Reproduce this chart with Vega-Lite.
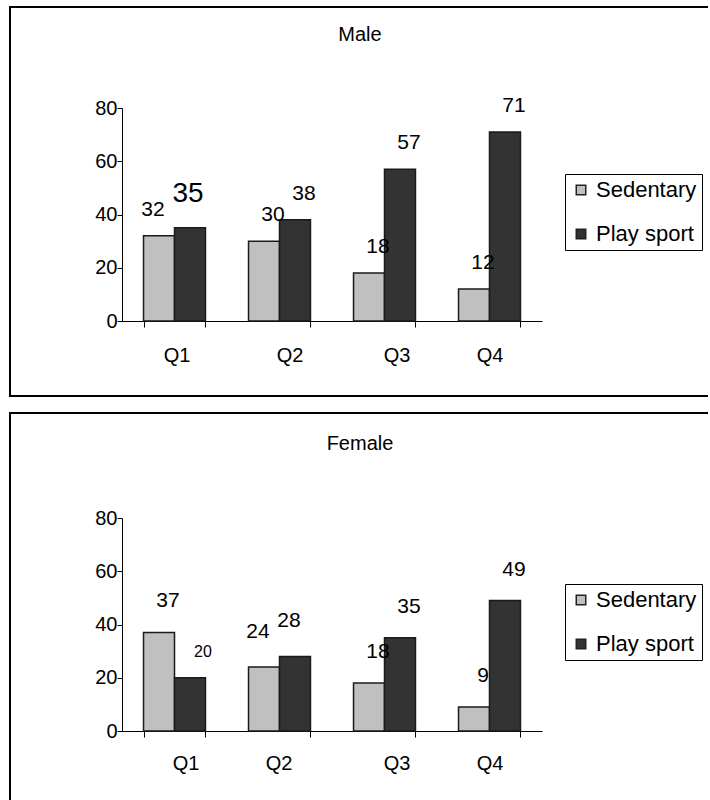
{
  "$schema": "https://vega.github.io/schema/vega-lite/v6.json",
  "padding": {"left": 9, "top": 6, "right": -3, "bottom": -4},
  "spacing": 15,
  "background": "#ffffff",
  "config": {
    "font": "Liberation Sans",
    "view": {"stroke": "#000000", "strokeWidth": 2},
    "axis": {
      "domainColor": "#000000",
      "tickColor": "#000000",
      "labelColor": "#000000",
      "labelFontSize": 20,
      "labelFont": "Liberation Sans",
      "grid": false,
      "title": null
    },
    "legend": {
      "labelFont": "Liberation Sans"
    }
  },
  "data": {
    "values": [
      {"gender": "Male", "quarter": "Q1", "activity": "Sedentary", "value": 32},
      {"gender": "Male", "quarter": "Q1", "activity": "Play sport", "value": 35},
      {"gender": "Male", "quarter": "Q2", "activity": "Sedentary", "value": 30},
      {"gender": "Male", "quarter": "Q2", "activity": "Play sport", "value": 38},
      {"gender": "Male", "quarter": "Q3", "activity": "Sedentary", "value": 18},
      {"gender": "Male", "quarter": "Q3", "activity": "Play sport", "value": 57},
      {"gender": "Male", "quarter": "Q4", "activity": "Sedentary", "value": 12},
      {"gender": "Male", "quarter": "Q4", "activity": "Play sport", "value": 71},
      {"gender": "Female", "quarter": "Q1", "activity": "Sedentary", "value": 37},
      {"gender": "Female", "quarter": "Q1", "activity": "Play sport", "value": 20},
      {"gender": "Female", "quarter": "Q2", "activity": "Sedentary", "value": 24},
      {"gender": "Female", "quarter": "Q2", "activity": "Play sport", "value": 28},
      {"gender": "Female", "quarter": "Q3", "activity": "Sedentary", "value": 18},
      {"gender": "Female", "quarter": "Q3", "activity": "Play sport", "value": 35},
      {"gender": "Female", "quarter": "Q4", "activity": "Sedentary", "value": 9},
      {"gender": "Female", "quarter": "Q4", "activity": "Play sport", "value": 49}
    ]
  },
  "resolve": {
    "scale": {"x": "independent", "y": "independent", "color": "independent", "xOffset": "independent", "size": "independent"},
    "legend": {"color": "independent"},
    "axis": {"x": "independent", "y": "independent"}
  },
  "vconcat": [
    {
      "width": 700,
      "height": 389,
      "title": {"text": "Male", "fontSize": 20, "fontWeight": "normal", "color": "#000000", "offset": -38, "anchor": "middle"},
      "transform": [{"filter": "datum.gender === 'Male'"}],
      "encoding": {
        "x": {
          "field": "quarter", "type": "nominal", "sort": ["Q1", "Q2", "Q3", "Q4"],
          "scale": {"range": [112, 532], "paddingInner": 0.41, "paddingOuter": 0.205},
          "axis": {
            "orient": "bottom", "offset": -75, "tickBand": "extent", "tickSize": 6, "labelPadding": 18, "labelAngle": 0,
            "labelOffset": {"condition": [{"test": "datum.value === 'Q1'", "value": 2}, {"test": "datum.value === 'Q2'", "value": 10}, {"test": "datum.value === 'Q3'", "value": 12}], "value": 0}
          }
        },
        "xOffset": {"field": "activity", "type": "nominal", "sort": ["Sedentary", "Play sport"]},
        "y": {
          "field": "value", "type": "quantitative",
          "scale": {"domain": [0, 80], "range": [314, 101]},
          "axis": {"orient": "left", "offset": -112, "values": [0, 20, 40, 60, 80], "tickSize": 5, "labelPadding": 0}
        }
      },
      "layer": [
        {
          "mark": {"type": "bar", "stroke": "#1a1a1a", "strokeWidth": 1.5},
          "encoding": {
            "color": {
              "field": "activity", "type": "nominal", "sort": ["Sedentary", "Play sport"],
              "scale": {"domain": ["Sedentary", "Play sport"], "range": ["#c0c0c0", "#333333"]},
              "legend": {
                "orient": "none", "legendX": 555, "legendY": 167, "title": null,
                "strokeColor": "#000000", "fillColor": "#ffffff", "padding": 5,
                "symbolType": "square", "symbolSize": 90, "symbolStrokeColor": "#222222", "symbolStrokeWidth": 1.5,
                "labelFontSize": 22, "labelColor": "#000000", "rowPadding": 22, "labelOffset": 4
              }
            }
          }
        },
        {
          "transform": [{"filter": "datum.quarter !== 'Q1'"}],
          "mark": {"type": "text", "dx": 9, "dy": -26, "baseline": "middle", "color": "#000000", "fontSize": 21},
          "encoding": {
            "text": {"field": "value", "type": "quantitative"}
          }
        },
        {
          "transform": [{"filter": "datum.quarter === 'Q1' && datum.activity === 'Sedentary'"}],
          "mark": {"type": "text", "dx": -6, "dy": -26, "baseline": "middle", "color": "#000000", "fontSize": 21},
          "encoding": {
            "text": {"field": "value", "type": "quantitative"}
          }
        },
        {
          "transform": [{"filter": "datum.quarter === 'Q1' && datum.activity === 'Play sport'"}],
          "mark": {"type": "text", "dx": -2, "dy": -34, "baseline": "middle", "color": "#000000", "fontSize": 28},
          "encoding": {
            "text": {"field": "value", "type": "quantitative"}
          }
        }
      ]
    },
    {
      "width": 700,
      "height": 390,
      "title": {"text": "Female", "fontSize": 20, "fontWeight": "normal", "color": "#000000", "offset": -41, "anchor": "middle"},
      "transform": [{"filter": "datum.gender === 'Female'"}],
      "encoding": {
        "x": {
          "field": "quarter", "type": "nominal", "sort": ["Q1", "Q2", "Q3", "Q4"],
          "scale": {"range": [112, 532], "paddingInner": 0.41, "paddingOuter": 0.205},
          "axis": {
            "orient": "bottom", "offset": -72, "tickBand": "extent", "tickSize": 6, "labelPadding": 16, "labelAngle": 0,
            "labelOffset": {"condition": [{"test": "datum.value === 'Q1'", "value": 11}, {"test": "datum.value === 'Q2'", "value": -1}, {"test": "datum.value === 'Q3'", "value": 12}], "value": 0}
          }
        },
        "xOffset": {"field": "activity", "type": "nominal", "sort": ["Sedentary", "Play sport"]},
        "y": {
          "field": "value", "type": "quantitative",
          "scale": {"domain": [0, 80], "range": [318, 105]},
          "axis": {"orient": "left", "offset": -112, "values": [0, 20, 40, 60, 80], "tickSize": 5, "labelPadding": 0}
        }
      },
      "layer": [
        {
          "mark": {"type": "bar", "stroke": "#1a1a1a", "strokeWidth": 1.5},
          "encoding": {
            "color": {
              "field": "activity", "type": "nominal", "sort": ["Sedentary", "Play sport"],
              "scale": {"domain": ["Sedentary", "Play sport"], "range": ["#c0c0c0", "#333333"]},
              "legend": {
                "orient": "none", "legendX": 555, "legendY": 171, "title": null,
                "strokeColor": "#000000", "fillColor": "#ffffff", "padding": 5,
                "symbolType": "square", "symbolSize": 90, "symbolStrokeColor": "#222222", "symbolStrokeWidth": 1.5,
                "labelFontSize": 22, "labelColor": "#000000", "rowPadding": 22, "labelOffset": 4
              }
            }
          }
        },
        {
          "transform": [{"filter": "datum.quarter !== 'Q2' && !(datum.quarter === 'Q1' && datum.activity === 'Play sport')"}],
          "mark": {"type": "text", "dx": 9, "dy": -31, "baseline": "middle", "color": "#000000", "fontSize": 21},
          "encoding": {
            "text": {"field": "value", "type": "quantitative"}
          }
        },
        {
          "transform": [{"filter": "datum.quarter === 'Q1' && datum.activity === 'Play sport'"}],
          "mark": {"type": "text", "dx": 13, "dy": -26, "baseline": "middle", "color": "#000000", "fontSize": 16},
          "encoding": {
            "text": {"field": "value", "type": "quantitative"}
          }
        },
        {
          "transform": [{"filter": "datum.quarter === 'Q2'"}],
          "mark": {"type": "text", "dx": -6, "dy": -35, "baseline": "middle", "color": "#000000", "fontSize": 21},
          "encoding": {
            "text": {"field": "value", "type": "quantitative"}
          }
        }
      ]
    }
  ]
}
